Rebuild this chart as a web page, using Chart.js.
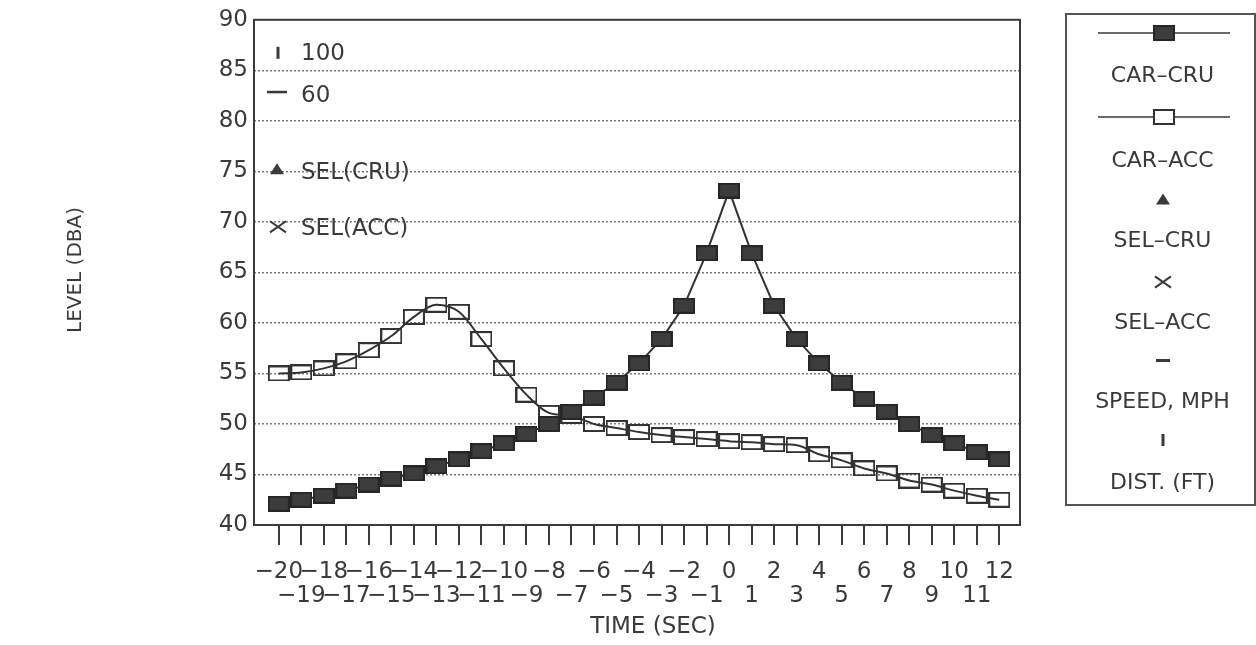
<!DOCTYPE html>
<html>
<head>
<meta charset="utf-8">
<script src="https://cdn.jsdelivr.net/npm/chart.js@4.4.1/dist/chart.umd.min.js"></script>
<style>
  html, body { margin: 0; padding: 0; background: #ffffff; }
  #wrap { width: 1256px; height: 645px; }
</style>
</head>
<body>
<div id="wrap"><canvas id="chart" width="1256" height="645"></canvas></div>
<script>
// Time relative to the pass-by, seconds
const TIME_SEC = [-20, -19, -18, -17, -16, -15, -14, -13, -12, -11, -10, -9, -8, -7, -6, -5, -4,
                  -3, -2, -1, 0, 1, 2, 3, 4, 5, 6, 7, 8, 9, 10, 11, 12];
// Sound level, dBA – cruising car
const CAR_CRU = [42.1, 42.5, 42.9, 43.4, 44.0, 44.6, 45.1, 45.8, 46.5, 47.3, 48.1, 49.0, 50.0, 51.2, 52.6, 54.1, 56.0,
                 58.4, 61.7, 66.9, 73.1, 66.9, 61.7, 58.4, 56.0, 54.1, 52.5, 51.2, 50.0, 48.9, 48.1, 47.2, 46.5];
// Sound level, dBA – accelerating car
const CAR_ACC = [55.0, 55.1, 55.5, 56.2, 57.3, 58.7, 60.6, 61.8, 61.1, 58.4, 55.5, 52.9, 51.1, 50.8, 50.0, 49.6, 49.2,
                 48.9, 48.7, 48.5, 48.3, 48.2, 48.0, 47.9, 47.0, 46.4, 45.6, 45.1, 44.4, 44.0, 43.4, 42.9, 42.5];
const Y_TICKS = [40, 45, 50, 55, 60, 65, 70, 75, 80, 85, 90];
const SERIES_NAMES = ['CAR\u2013CRU', 'CAR\u2013ACC'];
const KEY_NAMES = ['CAR\u2013CRU', 'CAR\u2013ACC', 'SEL\u2013CRU', 'SEL\u2013ACC', 'SPEED, MPH', 'DIST. (FT)'];
const NOTE_DIST = '100';
const NOTE_SPEED = '60';
const NOTE_SEL_CRU = 'SEL(CRU)';
const NOTE_SEL_ACC = 'SEL(ACC)';
const X_TITLE = 'TIME (SEC)';
const Y_TITLE = 'LEVEL (DBA)';

const FONT = '"DejaVu Sans", sans-serif';
const INK = '#3a3a3a';

// rectangular markers used for both curves
function boxMarker(fill, stroke) {
  const c = document.createElement('canvas');
  c.width = 22; c.height = 16;
  const g = c.getContext('2d');
  g.lineWidth = 2;
  if (fill) { g.fillStyle = fill; g.fillRect(1, 1, 20, 14); }
  g.strokeStyle = stroke;
  g.strokeRect(1, 1, 20, 14);
  return c;
}
const FILLED_BOX = boxMarker('#3c3c3c', '#262626');
const OPEN_BOX = boxMarker(null, '#333333');

function minusText(v) {
  return v < 0 ? '\u2212' + Math.abs(v) : String(v);
}

function triangle(ctx, x, y, w, h) {
  ctx.beginPath();
  ctx.moveTo(x, y - h / 2);
  ctx.lineTo(x + w / 2, y + h / 2);
  ctx.lineTo(x - w / 2, y + h / 2);
  ctx.closePath();
  ctx.fill();
}
function cross(ctx, x, y, s) {
  ctx.beginPath();
  ctx.moveTo(x - s, y - s * 0.7); ctx.lineTo(x + s, y + s * 0.7);
  ctx.moveTo(x + s, y - s * 0.7); ctx.lineTo(x - s, y + s * 0.7);
  ctx.stroke();
}

// frame, key box, in-plot notes and axis titles
const decorations = {
  id: 'decorations',
  afterDraw(chart) {
    const ctx = chart.ctx;
    const a = chart.chartArea;
    ctx.save();
    // plot frame
    ctx.strokeStyle = '#3a3a3a';
    ctx.lineWidth = 2;
    ctx.strokeRect(a.left, a.top, a.right - a.left, a.bottom - a.top);

    ctx.fillStyle = INK;
    ctx.strokeStyle = INK;
    ctx.font = '23px ' + FONT;
    ctx.textBaseline = 'middle';
    ctx.textAlign = 'left';

    // notes inside the plot
    const nx = a.left + 24;
    ctx.fillRect(nx - 1.5, a.top + 27, 3, 12);
    ctx.fillText(NOTE_DIST, a.left + 47, a.top + 34);
    ctx.fillRect(nx - 11, a.top + 71, 20, 2.5);
    ctx.fillText(NOTE_SPEED, a.left + 47, a.top + 76);
    triangle(ctx, nx - 1, a.top + 149, 14, 11);
    ctx.fillText(NOTE_SEL_CRU, a.left + 47, a.top + 153);
    ctx.lineWidth = 2;
    cross(ctx, nx, a.top + 207, 8);
    ctx.fillText(NOTE_SEL_ACC, a.left + 47, a.top + 209);

    // key box
    const kx = 1066, ky = 14, kw = 189, kh = 491;
    ctx.strokeStyle = '#555';
    ctx.lineWidth = 2;
    ctx.strokeRect(kx, ky, kw, kh);
    const cx = kx + kw / 2 + 2;
    ctx.strokeStyle = INK;
    ctx.lineWidth = 1.5;
    ctx.beginPath(); ctx.moveTo(1098, 33); ctx.lineTo(1230, 33); ctx.stroke();
    ctx.drawImage(FILLED_BOX, 1164 - 11, 33 - 8);
    ctx.beginPath(); ctx.moveTo(1098, 117); ctx.lineTo(1230, 117); ctx.stroke();
    ctx.fillStyle = '#ffffff';
    ctx.fillRect(1154, 110, 20, 14);
    ctx.drawImage(OPEN_BOX, 1164 - 11, 117 - 8);
    ctx.fillStyle = INK;
    triangle(ctx, 1163, 199, 14, 11);
    ctx.lineWidth = 2;
    cross(ctx, 1163, 282, 8);
    ctx.fillRect(1156, 359, 14, 3);
    ctx.fillRect(1161.5, 434, 3, 12);
    ctx.textAlign = 'center';
    ctx.font = '22px ' + FONT;
    const keyY = [76, 161, 241, 323, 402, 483];
    KEY_NAMES.forEach((t, i) => ctx.fillText(t, cx, keyY[i]));

    // axis titles
    ctx.font = '23px ' + FONT;
    ctx.fillText(X_TITLE, 653, 627);
    ctx.save();
    ctx.font = '20px ' + FONT;
    ctx.translate(76, 270);
    ctx.rotate(-Math.PI / 2);
    ctx.fillText(Y_TITLE, 0, 0);
    ctx.restore();
    ctx.restore();
  }
};

new Chart(document.getElementById('chart'), {
  type: 'line',
  data: {
    datasets: [
      {
        label: SERIES_NAMES[0],
        data: TIME_SEC.map((t, i) => ({ x: t, y: CAR_CRU[i] })),
        borderColor: '#333333',
        borderWidth: 2,
        tension: 0,
        pointStyle: FILLED_BOX,
        pointRadius: 10
      },
      {
        label: SERIES_NAMES[1],
        data: TIME_SEC.map((t, i) => ({ x: t, y: CAR_ACC[i] })),
        borderColor: '#333333',
        borderWidth: 2,
        cubicInterpolationMode: 'monotone',
        pointStyle: OPEN_BOX,
        pointRadius: 10
      }
    ]
  },
  options: {
    responsive: false,
    animation: false,
    devicePixelRatio: 1,
    events: [],
    layout: { padding: { left: 0, right: 236, top: 14, bottom: 0 } },
    plugins: { legend: { display: false }, tooltip: { enabled: false } },
    scales: {
      x: {
        type: 'linear',
        min: -21.1,
        max: 12.92,
        afterBuildTicks: s => { s.ticks = TIME_SEC.map(v => ({ value: v })); },
        afterFit: s => { s.height = 120; },
        border: { display: false },
        grid: { drawOnChartArea: false, drawTicks: true, tickLength: 20, color: '#3a3a3a', lineWidth: 2 },
        ticks: {
          autoSkip: false,
          maxRotation: 0,
          padding: 15,
          color: INK,
          font: { family: FONT, size: 23, lineHeight: 1.05 },
          callback: v => (Math.abs(v) % 2 === 0 ? [minusText(v), ''] : ['', minusText(v)])
        }
      },
      y: {
        min: 40,
        max: 90,
        afterBuildTicks: s => { s.ticks = Y_TICKS.map(v => ({ value: v })); },
        afterFit: s => { s.width = 254; },
        border: { display: false, dash: [2, 2] },
        grid: {
          drawTicks: false,
          color: c => (c.tick && (c.tick.value === 40 || c.tick.value === 90)) ? 'rgba(0,0,0,0)' : '#7a7a7a',
          lineWidth: 1.5
        },
        ticks: { padding: 6, color: INK, font: { family: FONT, size: 23 } }
      }
    }
  },
  plugins: [decorations]
});
</script>
</body>
</html>
